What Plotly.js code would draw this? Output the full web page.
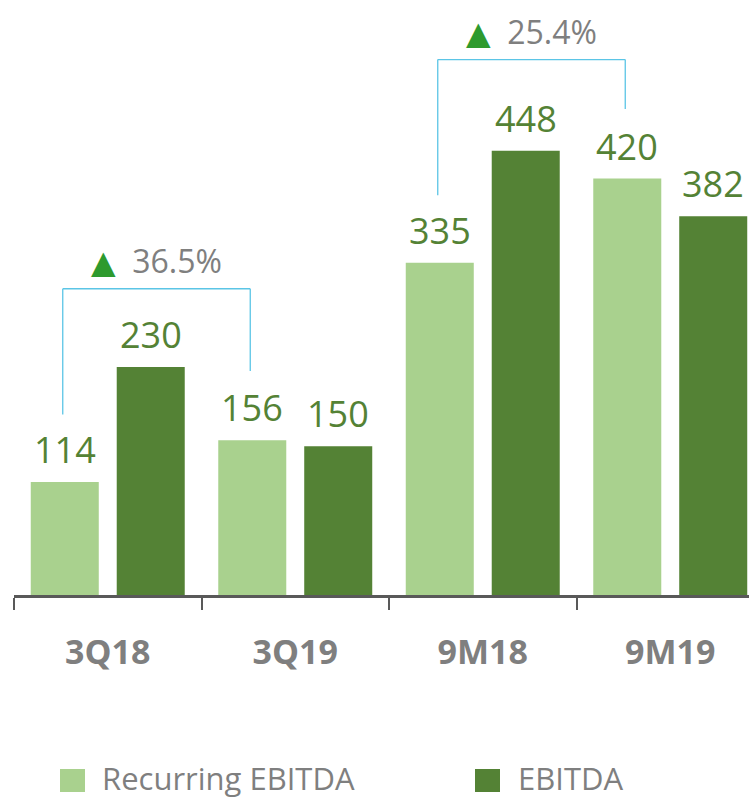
<!DOCTYPE html>
<html><head><meta charset="utf-8">
<script src="https://cdn.plot.ly/plotly-3.0.1.min.js"></script>
<style>html,body{margin:0;padding:0;background:#fff}#chart{width:749px;height:801px}</style>
</head><body><div id="chart"></div>
<script>
// ---- data ----
const categories = ['3Q18', '3Q19', '9M18', '9M19'];
const recurringEbitda = [114, 156, 335, 420];
const ebitda = [230, 150, 448, 382];
const seriesNames = ['Recurring EBITDA', 'EBITDA'];
const seriesColors = ['#a9d18e', '#548235'];
const growthLabels = ['36.5%', '25.4%'];
const growthPairs = [[0, 1], [2, 3]]; // recurring EBITDA compared between these periods

// ---- layout constants ----
const W = 749, H = 801;
const M = {l: 14, r: 0, t: 0, b: 206};
const plotW = W - M.l - M.r, plotH = H - M.t - M.b;
const catW = 187.5;
const xRange = [-0.5, -0.5 + plotW / catW];
const yRange = [0, 600];
const xp = px => (px - M.l) / plotW;
const yp = py => (M.t + plotH - py) / plotH;

const gray = '#7f7f7f';
const axisGray = '#595959';
const labelGreen = '#548235';
const bracketBlue = '#5bc5e6';
const triGreen = '#2e9a2e';
const font = 'Open Sans, sans-serif';

const allSeries = [recurringEbitda, ebitda];

const traces = allSeries.map((vals, s) => ({
  type: 'bar',
  name: seriesNames[s],
  x: categories,
  y: vals,
  marker: {color: seriesColors[s]},
  showlegend: false,
  hoverinfo: 'x+y+name'
}));

const annotations = [];
const shapes = [];

// value labels
const barOffsetPx = 43;
allSeries.forEach((vals, s) => {
  vals.forEach((v, i) => {
    annotations.push({
      x: i, y: v, xref: 'x', yref: 'y',
      xshift: s === 0 ? -barOffsetPx : barOffsetPx,
      yanchor: 'bottom', yshift: 6,
      text: String(v), showarrow: false,
      font: {family: font, size: 36, color: labelGreen}
    });
  });
});

// growth brackets
const legOffset = -0.24;
growthPairs.forEach((pair, k) => {
  const [a, b] = pair;
  const xl = a + legOffset, xr = b + legOffset;
  const yl = recurringEbitda[a] + 68;
  const yr = recurringEbitda[b] + 70;
  let maxV = 0;
  for (let i = a; i <= b; i++) maxV = Math.max(maxV, recurringEbitda[i], ebitda[i]);
  const yt = maxV * 1.06 + 65;
  const ln = {color: bracketBlue, width: 1.3};
  shapes.push({type: 'line', xref: 'x', yref: 'y', x0: xl, x1: xl, y0: yl, y1: yt, line: ln});
  shapes.push({type: 'line', xref: 'x', yref: 'y', x0: xl, x1: xr, y0: yt, y1: yt, line: ln});
  shapes.push({type: 'line', xref: 'x', yref: 'y', x0: xr, x1: xr, y0: yr, y1: yt, line: ln});
  annotations.push({
    x: (xl + xr) / 2, y: yt, xref: 'x', yref: 'y',
    yanchor: 'bottom', yshift: 5, showarrow: false,
    text: '<span style="color:' + triGreen + ';font-family:\'DejaVu Sans\'">▲</span>&nbsp; ' + growthLabels[k],
    font: {family: font, size: 32, color: gray}
  });
});

// manual legend
const legendItems = [{sq: 60, tx: 100}, {sq: 475, tx: 516}];
legendItems.forEach((it, s) => {
  shapes.push({
    type: 'rect', xref: 'paper', yref: 'paper',
    x0: xp(it.sq), x1: xp(it.sq + 25), y0: yp(769), y1: yp(792),
    fillcolor: seriesColors[s], line: {width: 0}
  });
  annotations.push({
    x: xp(it.tx), y: yp(778), xref: 'paper', yref: 'paper',
    xanchor: 'left', yanchor: 'middle', showarrow: false,
    text: seriesNames[s],
    font: {family: font, size: 31, color: gray}
  });
});

const layout = {
  width: W, height: H,
  margin: M,
  paper_bgcolor: '#fff', plot_bgcolor: '#fff',
  barmode: 'group', bargap: 0.083, bargroupgap: 0.209,
  showlegend: false,
  xaxis: {
    type: 'category', range: xRange,
    showline: true, linecolor: axisGray, linewidth: 2.5,
    ticks: 'outside', tickson: 'boundaries', ticklen: 12, tickwidth: 2, tickcolor: axisGray,
    ticklabelstandoff: 26,
    tickfont: {family: font, size: 34, color: gray, weight: 'bold'},
    showgrid: false, zeroline: false, fixedrange: true
  },
  yaxis: {range: yRange, visible: false, showgrid: false, zeroline: false, fixedrange: true},
  annotations: annotations,
  shapes: shapes,
  font: {family: font}
};

Plotly.newPlot('chart', traces, layout, {displayModeBar: false, staticPlot: true});
</script>
</body></html>
